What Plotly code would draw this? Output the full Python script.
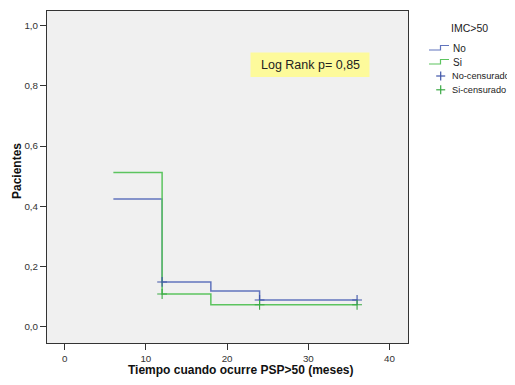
import plotly.graph_objects as go

# Data
no_time = [6, 12, 18, 24, 36]
no_surv = [0.424, 0.148, 0.118, 0.088, 0.088]
si_time = [6, 12, 18, 36]
si_surv = [0.512, 0.108, 0.072, 0.072]
no_cens_time = [12, 24, 36]
no_cens_surv = [0.148, 0.088, 0.088]
si_cens_time = [12, 24, 36]
si_cens_surv = [0.108, 0.072, 0.072]

x_ticks = [0, 10, 20, 30, 40]
y_ticks = [0.0, 0.2, 0.4, 0.6, 0.8, 1.0]

BLUE = "#6174bd"
GREEN = "#5cc45f"
BLUE_D = "#3f55a8"
GREEN_D = "#3aa944"
FONT = "Liberation Sans, Arial, sans-serif"

OFF = 8  # default page body margin
W, H = 515, 385
L, R, T, B = 47, 408, 11, 343


def px(x):
    return (x - L) / (R - L)


def py(y):
    return (B - y) / (B - T)


fig = go.Figure()
fig.add_trace(go.Scatter(x=no_time, y=no_surv, mode="lines", line=dict(color=BLUE, width=1.5, shape="hv"),
                         showlegend=False))
fig.add_trace(go.Scatter(x=si_time, y=si_surv, mode="lines", line=dict(color=GREEN, width=1.5, shape="hv"),
                         showlegend=False))
fig.add_trace(go.Scatter(x=no_cens_time, y=no_cens_surv, mode="markers",
                         marker=dict(symbol="cross-thin", size=7, line=dict(color=BLUE_D, width=1.1)),
                         showlegend=False))
fig.add_trace(go.Scatter(x=si_cens_time, y=si_cens_surv, mode="markers",
                         marker=dict(symbol="cross-thin", size=7, line=dict(color=GREEN_D, width=1.1)),
                         showlegend=False))

shapes = []
annotations = []

# Log rank box
shapes.append(dict(type="rect", xref="paper", yref="paper", x0=px(250.5), x1=px(369.5), y0=py(77), y1=py(52.5),
                   fillcolor="#fdfa9b", line=dict(width=0), layer="above"))
annotations.append(dict(xref="paper", yref="paper", x=px(310), y=py(65), text="Log Rank p= 0,85",
                        showarrow=False, font=dict(family=FONT, size=12.5, color="#222"),
                        xanchor="center", yanchor="middle"))

# Custom legend
annotations.append(dict(xref="paper", yref="paper", x=px(469), y=py(28), text="IMC>50", showarrow=False,
                        font=dict(family=FONT, size=10.5, color="#222"), xanchor="center", yanchor="middle"))
for i, (lab, col) in enumerate([("No", BLUE), ("Si", GREEN)]):
    yc = 48 + i * 14
    path = "M {} {} L {} {} L {} {} L {} {}".format(
        px(429), py(yc + 2), px(440.5), py(yc + 2), px(440.5), py(yc - 2.5), px(449), py(yc - 2.5))
    shapes.append(dict(type="path", xref="paper", yref="paper", path=path, line=dict(color=col, width=1.2)))
    annotations.append(dict(xref="paper", yref="paper", x=px(450.5), y=py(yc), text=lab, showarrow=False,
                            font=dict(family=FONT, size=10, color="#222"), xanchor="left", yanchor="middle"))
for i, (lab, col) in enumerate([("No-censurado", BLUE_D), ("Si-censurado", GREEN_D)]):
    yc = 76 + i * 13.8
    xc = 440.7
    shapes.append(dict(type="line", xref="paper", yref="paper", x0=px(xc - 4.5), x1=px(xc + 4.5),
                       y0=py(yc), y1=py(yc), line=dict(color=col, width=1.2)))
    shapes.append(dict(type="line", xref="paper", yref="paper", x0=px(xc), x1=px(xc),
                       y0=py(yc - 4.5), y1=py(yc + 4.5), line=dict(color=col, width=1.2)))
    annotations.append(dict(xref="paper", yref="paper", x=px(450), y=py(yc), text=lab, showarrow=False,
                            font=dict(family=FONT, size=9.2, color="#222"), xanchor="left", yanchor="middle"))

# Axis titles
annotations.append(dict(xref="paper", yref="paper", x=px(241), y=py(370), text="<b>Tiempo cuando ocurre PSP>50 (meses)</b>",
                        showarrow=False, font=dict(family=FONT, size=12, color="#111"),
                        xanchor="center", yanchor="middle"))
annotations.append(dict(xref="paper", yref="paper", x=px(17), y=py(171), text="<b>Pacientes</b>", textangle=-90,
                        showarrow=False, font=dict(family=FONT, size=12, color="#111"),
                        xanchor="center", yanchor="middle"))

fig.update_layout(
    width=W - OFF, height=H - OFF,
    margin=dict(l=L - OFF, r=W - R, t=T - OFF, b=H - B, pad=0),
    paper_bgcolor="white", plot_bgcolor="#f0f0f0",
    separators=", ",
    showlegend=False,
    shapes=shapes, annotations=annotations,
    font=dict(family=FONT, size=9, color="#333"),
)
fig.update_xaxes(range=[-2.17, 42.27], tickvals=x_ticks, showgrid=False, zeroline=False,
                 showline=True, linecolor="#333", linewidth=1, mirror=True,
                 ticks="outside", ticklen=6, tickcolor="#333", tickfont=dict(size=9.8, color="#333"))
fig.update_yaxes(range=[-0.055, 1.049], tickvals=y_ticks, tickformat=".1f", showgrid=False, zeroline=False,
                 showline=True, linecolor="#333", linewidth=1, mirror=True,
                 ticks="outside", ticklen=6, tickcolor="#333", tickfont=dict(size=9.8, color="#333"))

fig.write_html("out.html")
